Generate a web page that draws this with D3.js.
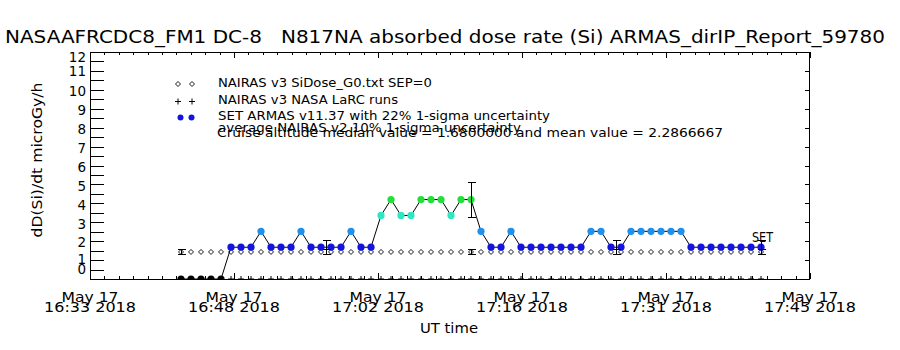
<!DOCTYPE html>
<html><head><meta charset="utf-8">
<script src="https://cdn.jsdelivr.net/npm/d3@7"></script>
<style>
body{margin:0;background:#fff}
svg{display:block}
text{font-family:"DejaVu Sans",sans-serif;fill:#000;white-space:pre}
</style>
</head><body>
<svg id="chart" width="900" height="350"></svg>
<script>
// ---------------- DATA ----------------
const titleText = "NASAAFRCDC8_FM1 DC-8   N817NA absorbed dose rate (Si) ARMAS_dirIP_Report_59780";
const yTitleText = "dD(Si)/dt microGy/h";
const xTitleText = "UT time";
const dateStr = "2018-05-17";
const axisStart = "16:33:36";
const axisEnd = "17:45:36";
const majorTickTimes = ["16:33:36","16:48:00","17:02:24","17:16:48","17:31:12","17:45:36"];
const yTickValues = [0,1,2,3,4,5,6,7,8,9,10,11,12];

const setTimes = [
 "16:42:42","16:43:42","16:44:42","16:45:42","16:46:42","16:47:42","16:48:42","16:49:42","16:50:42","16:51:42",
 "16:52:42","16:53:42","16:54:42","16:55:42","16:56:42","16:57:42","16:58:42","16:59:42","17:00:42","17:01:42",
 "17:02:42","17:03:42","17:04:42","17:05:42","17:06:42","17:07:42","17:08:42","17:09:42","17:10:42","17:11:42",
 "17:12:42","17:13:42","17:14:42","17:15:42","17:16:42","17:17:42","17:18:42","17:19:42","17:20:42","17:21:42",
 "17:22:42","17:23:42","17:24:42","17:25:42","17:26:42","17:27:42","17:28:42","17:29:42","17:30:42","17:31:42",
 "17:32:42","17:33:42","17:34:42","17:35:42","17:36:42","17:37:42","17:38:42","17:39:42","17:40:42"];
const setValues = [
 0,0,0,0,0,1.68,1.68,1.68,2.52,1.68,
 1.68,1.68,2.52,1.68,1.68,1.68,1.68,2.52,1.68,1.68,
 3.36,4.2,3.36,3.36,4.2,4.2,4.2,3.36,4.2,4.2,
 2.52,1.68,1.68,2.52,1.68,1.68,1.68,1.68,1.68,1.68,
 1.68,2.52,2.52,1.68,1.68,2.52,2.52,2.52,2.52,2.52,
 2.52,1.68,1.68,1.68,1.68,1.68,1.68,1.68,1.68];
const nairasV3Values = [
 1.43,1.43,1.43,1.43,1.43,1.43,1.43,1.43,1.43,1.43,
 1.43,1.43,1.43,1.43,1.43,1.43,1.43,1.43,1.43,1.43,
 1.43,1.43,1.43,1.43,1.43,1.43,1.43,1.43,1.43,1.43,
 1.43,1.43,1.43,1.43,1.43,1.43,1.43,1.43,1.43,1.43,
 1.43,1.43,1.43,1.43,1.43,1.43,1.43,1.43,1.43,1.43,
 1.43,1.43,1.43,1.43,1.43,1.43,1.43,1.43,1.43];
const larcValues = [
 0,0,0,0,0,0,0,0,0,0,
 0,0,0,0,0,0,0,0,0,0,
 0,0,0,0,0,0,0,0,0,0,
 0,0,0,0,0,0,0,0,0,0,
 0,0,0,0,0,0,0,0,0,0,
 0,0,0,0,0,0,0,0,0];
const errTimes = ["16:42:42","16:57:12","17:11:42","17:26:12","17:40:42"];
const errNairasV2Values = [1.43,1.43,1.43,1.43,1.43];
const errSetValues = [0,1.68,4.2,1.68,1.68];
const nairasV2Sigma = 0.10;
const setSigma = 0.22;

const legendLabels = [
 "NAIRAS v3 SiDose_G0.txt SEP=0",
 "NAIRAS v3 NASA LaRC runs",
 "SET ARMAS v11.37 with 22% 1-sigma uncertainty",
 "average NAIRAS v2 10% 1-sigma uncertainty",
 "Cruise altitude median value = 1.6800000 and mean value = 2.2866667"];
const levelBreaks = [0.5, 2.0, 3.0, 4.0];
const levelColors = ["#000000","#1414e0","#1e90ee","#2ee6c4","#22e03a"];
const endLabel = "SET";

// ---------------- DRAW ----------------
const parseT = s => new Date(dateStr + "T" + s + "Z");
const svg = d3.select("#chart");
const L = 90, R = 810, T = 52, B = 279;
const x = d3.scaleUtc().domain([parseT(axisStart), parseT(axisEnd)]).range([L, R]);
const y = d3.scaleLinear().domain([0, 12]).range([B, T]);
const color = d3.scaleThreshold().domain(levelBreaks).range(levelColors);

svg.append("defs").append("clipPath").attr("id","clip")
  .append("rect").attr("x",L).attr("y",T).attr("width",R-L).attr("height",B-T);

// title
svg.append("text").attr("x",5).attr("y",43).attr("font-size",18)
  .attr("textLength",880).attr("lengthAdjust","spacingAndGlyphs").text(titleText);

// axes
const crisp = g => g.attr("shape-rendering","crispEdges");
const clean = g => { g.select(".domain").remove(); g.selectAll("line").attr("stroke","#000"); };
const majors = majorTickTimes.map(parseT);
const minorStep = (parseT(majorTickTimes[1]) - parseT(majorTickTimes[0])) / 10;
const minors = d3.range(0, 51).map(k => new Date(+parseT(axisStart) + k * minorStep));

// left: ticks every 0.5
svg.append("g").attr("transform",`translate(${L},0)`)
  .call(d3.axisLeft(y).tickValues(d3.range(0, 12.01, 0.5)).tickSize(-14).tickFormat(""))
  .call(clean).call(crisp);
// right: ticks every 1
svg.append("g").attr("transform",`translate(${R},0)`)
  .call(d3.axisRight(y).tickValues(yTickValues).tickSize(-5).tickFormat(""))
  .call(clean).call(crisp);
// top
svg.append("g").attr("transform",`translate(0,${T})`)
  .call(d3.axisTop(x).tickValues(minors).tickSize(-3).tickFormat("")).call(clean).call(crisp);
svg.append("g").attr("transform",`translate(0,${T})`)
  .call(d3.axisTop(x).tickValues(majors).tickSize(-6).tickFormat("")).call(clean).call(crisp);
// bottom
svg.append("g").attr("transform",`translate(0,${B})`)
  .call(d3.axisBottom(x).tickValues(minors).tickSize(-3).tickFormat("")).call(clean).call(crisp);
svg.append("g").attr("transform",`translate(0,${B})`)
  .call(d3.axisBottom(x).tickValues(majors).tickSize(-6).tickFormat("")).call(clean).call(crisp);

// frame
svg.append("rect").attr("x",L+0.5).attr("y",T+0.5).attr("width",R-L-1).attr("height",B-T)
  .attr("fill","none").attr("stroke","#000").attr("shape-rendering","crispEdges");

// y tick labels (IDL-like placement near ends)
const yLabelShift = {0:-11, 1:-2, 11:-1.5, 12:3.5};
svg.append("g").selectAll("text").data(yTickValues).join("text")
  .attr("x",86).attr("y",d => y(d) + 1.5 + (yLabelShift[d] || 0) + 4.8)
  .attr("text-anchor","end").attr("font-size",13.5).text(d => d);

// x tick labels
const fmtDay = d3.utcFormat("%b %d"), fmtTime = d3.utcFormat("%H:%M %Y");
const xl = svg.append("g").selectAll("g").data(majors).join("g");
xl.append("text").attr("x",d => x(d)).attr("y",302).attr("text-anchor","middle")
  .attr("font-size",14).attr("textLength",57).attr("lengthAdjust","spacingAndGlyphs").text(fmtDay);
xl.append("text").attr("x",d => x(d)).attr("y",312).attr("text-anchor","middle")
  .attr("font-size",14).attr("textLength",92).attr("lengthAdjust","spacingAndGlyphs").text(fmtTime);

// axis titles
svg.append("text").attr("x",449).attr("y",333).attr("text-anchor","middle").attr("font-size",14)
  .attr("textLength",58).attr("lengthAdjust","spacingAndGlyphs").text(xTitleText);
svg.append("text").attr("transform","translate(42,160) rotate(-90)").attr("text-anchor","middle")
  .attr("font-size",14).attr("textLength",155).attr("lengthAdjust","spacingAndGlyphs").text(yTitleText);

// plot contents
const plot = svg.append("g").attr("clip-path","url(#clip)");
const setPts = setTimes.map((t,i) => ({t: parseT(t), v: setValues[i]}));
const nPts = setTimes.map((t,i) => ({t: parseT(t), v: nairasV3Values[i]}));
const lPts = setTimes.map((t,i) => ({t: parseT(t), v: larcValues[i]}));
const diamond = s => `M0,${-s}L${s},0L0,${s}L${-s},0Z`;

// NAIRAS v3 diamonds
plot.append("g").selectAll("path").data(nPts).join("path")
  .attr("transform",d => `translate(${x(d.t)},${y(d.v)})`).attr("d",diamond(2.5))
  .attr("fill","#fff").attr("stroke","#000").attr("stroke-width",0.9);
// LaRC plus markers
plot.append("g").selectAll("path").data(lPts).join("path")
  .attr("transform",d => `translate(${x(d.t)},${y(d.v)})`).attr("d","M-3,0H3M0,-3V3")
  .attr("stroke","#000").attr("stroke-width",1);
// line
plot.append("path").datum(setPts)
  .attr("d", d3.line().x(d => x(d.t)).y(d => y(d.v)))
  .attr("fill","none").attr("stroke","#000").attr("stroke-width",1);
// SET points
plot.append("g").selectAll("circle").data(setPts).join("circle")
  .attr("cx",d => x(d.t)).attr("cy",d => y(d.v)).attr("r",3.6)
  .attr("fill",d => color(d.v));

// error bars
const errData = errTimes.map((t,i) => ({t: parseT(t), n: errNairasV2Values[i], s: errSetValues[i]}));
const eg = plot.append("g").attr("stroke","#000").attr("stroke-width",1).attr("shape-rendering","crispEdges");
function errBar(cx, lo, hi) {
  eg.append("line").attr("x1",cx).attr("x2",cx).attr("y1",y(lo)).attr("y2",y(hi));
  eg.append("line").attr("x1",cx-4).attr("x2",cx+4).attr("y1",y(lo)).attr("y2",y(lo));
  eg.append("line").attr("x1",cx-4).attr("x2",cx+4).attr("y1",y(hi)).attr("y2",y(hi));
}
errData.forEach(d => {
  const cx = Math.round(x(d.t)) + 0.5;
  errBar(cx, d.n * (1 - nairasV2Sigma), d.n * (1 + nairasV2Sigma));
  if (d.s > 0) errBar(cx, d.s * (1 - setSigma), d.s * (1 + setSigma));
});

// end label
const last = setPts[setPts.length - 1];
svg.append("text").attr("x",x(last.t) - 9).attr("y",y(last.v) - 5).attr("font-size",14)
  .attr("textLength",21).attr("lengthAdjust","spacingAndGlyphs").text(endLabel);

// legend
const lg = svg.append("g");
const legY = [87, 103.5, 120, 131.7, 137];
const legW = [214, 180, 332, 303, 506];
legendLabels.forEach((s,i) => {
  lg.append("text").attr("x", i === 4 ? 217 : 218).attr("y",legY[i]).attr("font-size",13)
    .attr("textLength",legW[i]).attr("lengthAdjust","spacingAndGlyphs").text(s);
});
[178,192].forEach(cx => {
  lg.append("path").attr("transform",`translate(${cx},84)`).attr("d",diamond(2.5))
    .attr("fill","#fff").attr("stroke","#000").attr("stroke-width",0.9);
  lg.append("path").attr("transform",`translate(${cx},101.5)`).attr("d","M-3,0H3M0,-3V3")
    .attr("stroke","#000");
});
[180.5,191.5].forEach(cx => {
  lg.append("circle").attr("cx",cx).attr("cy",117.5).attr("r",3).attr("fill",color(setValues[5]));
});
</script>
</body></html>
